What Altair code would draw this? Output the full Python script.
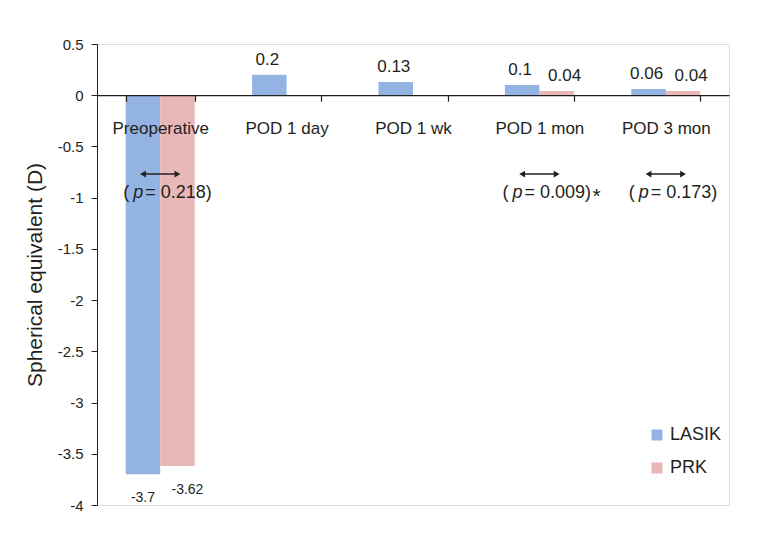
import altair as alt
import pandas as pd

categories = ["Preoperative", "POD 1 day", "POD 1 wk", "POD 1 mon", "POD 3 mon"]
groups = ["LASIK", "PRK"]
lasik = [-3.7, 0.2, 0.13, 0.1, 0.06]
prk = [-3.62, None, None, 0.04, 0.04]
lasik_labels = ["-3.7", "0.2", "0.13", "0.1", "0.06"]
prk_labels = ["-3.62", "", "", "0.04", "0.04"]

cmp_categories = ["Preoperative", "POD 1 mon", "POD 3 mon"]
p_values = ["0.218", "0.009", "0.173"]
significant = ["", "*", ""]

rows = []
for c, v, l in zip(categories, lasik, lasik_labels):
    rows.append({"cat": c, "grp": "LASIK", "val": v, "lab": l})
for c, v, l in zip(categories, prk, prk_labels):
    if v is not None:
        rows.append({"cat": c, "grp": "PRK", "val": v, "lab": l})
bars_df = pd.DataFrame(rows)

arrow_rows = []
for c in cmp_categories:
    for g, side in zip(groups, ["left", "right"]):
        arrow_rows.append({"cat": c, "grp": g, "side": side})
arrow_df = pd.DataFrame(arrow_rows)

p_df = pd.DataFrame({
    "cat": cmp_categories,
    "rest": ["= " + p + ")" for p in p_values],
    "star": significant,
})

W, H = 632, 461
YMIN, YMAX = -4.0, 0.5
FONT = "Liberation Sans"
DARK = "#231f20"

xscale = alt.Scale(domain=categories, paddingInner=0.454, paddingOuter=0.227)
offscale = alt.Scale(domain=groups, paddingInner=0, paddingOuter=0)
yscale = alt.Scale(domain=[YMIN, YMAX], nice=False, zero=False)

x_axis = alt.Axis(
    orient="bottom", offset=-H * (0 - YMIN) / (YMAX - YMIN), title=None,
    labelAngle=0, labelFontSize=17, labelColor=DARK, labelPadding=19,
    tickBand="extent", tickSize=6, tickColor=DARK, domainColor=DARK,
    domainWidth=1.2, tickWidth=1.2, labelFont=FONT, zindex=1,
)
y_axis = alt.Axis(
    values=[-4, -3.5, -3, -2.5, -2, -1.5, -1, -0.5, 0, 0.5],
    labelExpr="'' + datum.value", grid=False, tickSize=6, labelPadding=8,
    labelFontSize=15, labelColor=DARK, tickColor=DARK, domainColor=DARK,
    title="Spherical equivalent (D)", titleFontSize=21, titleFontWeight="normal",
    titleColor=DARK, titlePadding=12, labelFont=FONT, titleFont=FONT,
)

X = alt.X("cat:N", sort=categories, scale=xscale)
XO = alt.XOffset("grp:N", scale=offscale)

bars = alt.Chart(bars_df).mark_bar().encode(
    x=alt.X("cat:N", sort=categories, scale=xscale, axis=x_axis),
    xOffset=XO,
    y=alt.Y("val:Q", scale=yscale, axis=y_axis),
    color=alt.Color(
        "grp:N",
        scale=alt.Scale(domain=groups, range=["#93b3e3", "#e8b7b8"]),
        legend=alt.Legend(
            title=None, orient="none", legendX=551, legendY=382,
            symbolType="square", symbolSize=121, labelFontSize=18,
            labelColor=DARK, rowPadding=15, labelOffset=4, labelFont=FONT,
        ),
    ),
)


def value_labels(cond, grp, baseline, dy, dx, size):
    return alt.Chart(bars_df).transform_filter(cond).transform_filter(
        alt.datum.grp == grp
    ).mark_text(
        baseline=baseline, dy=dy, dx=dx, fontSize=size, color=DARK, font=FONT
    ).encode(x=X, xOffset=XO, y=alt.Y("val:Q", scale=yscale), text="lab:N")


pos_l = value_labels("datum.val > 0", "LASIK", "bottom", -6, -2, 17)
pos_p = value_labels("datum.val > 0", "PRK", "bottom", -6, 8, 17)
neg_l = value_labels("datum.val < 0", "LASIK", "top", 17, 0, 14)
neg_p = value_labels("datum.val < 0", "PRK", "top", 17, 10, 14)

arrow_line = alt.Chart(arrow_df).mark_line(color=DARK, strokeWidth=1.5).encode(
    x=X, xOffset=XO, y=alt.datum(-0.77, scale=yscale), detail="cat:N",
)

arrow_heads = alt.Chart(arrow_df).mark_point(filled=True, opacity=1, color=DARK, size=45).encode(
    x=X, xOffset=XO, y=alt.datum(-0.77, scale=yscale),
    shape=alt.Shape("side:N", scale=alt.Scale(domain=["left", "right"], range=["triangle-left", "triangle-right"]), legend=None),
)

p_base = alt.Chart(p_df).encode(x=X, y=alt.datum(-0.95, scale=yscale))
p_open = p_base.mark_text(text="(", align="left", dx=-37, fontSize=18, color=DARK, font=FONT, baseline="middle")
p_ital = p_base.mark_text(text="p", align="left", dx=-27, fontSize=18, fontStyle="italic", color=DARK, font=FONT, baseline="middle")
p_rest = p_base.mark_text(align="left", dx=-15, fontSize=18, color=DARK, font=FONT, baseline="middle").encode(text="rest:N")
p_star = p_base.mark_text(align="left", dx=53, dy=4, fontSize=21, color=DARK, font=FONT, baseline="middle").encode(text="star:N")

chart = alt.layer(
    bars, pos_l, pos_p, neg_l, neg_p, arrow_line, arrow_heads, p_open, p_ital, p_rest, p_star
).properties(
    width=W, height=H,
    padding={"left": 16, "top": 29, "right": 5, "bottom": 5},
).configure_view(stroke=None).configure(font=FONT)

chart.save("out.html", embed_options={"renderer": "svg", "actions": False})
